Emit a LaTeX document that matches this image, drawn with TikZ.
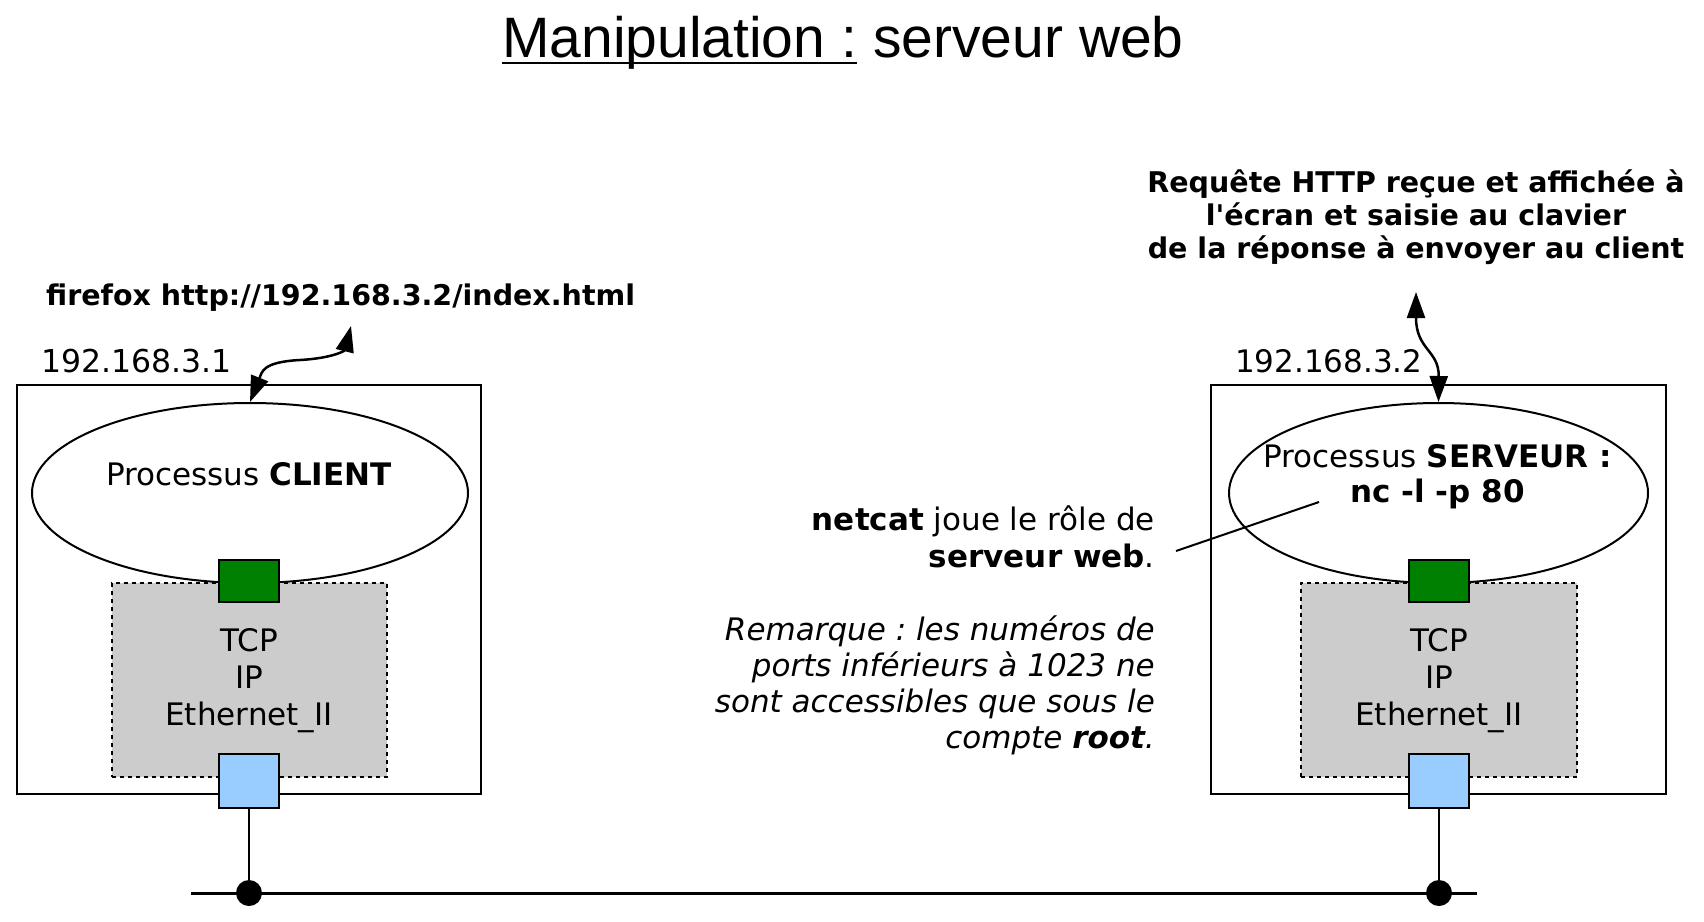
\documentclass[tikz,border=0pt]{standalone}
\usepackage{fontspec}
\setmainfont{DejaVu Sans}
\newfontfamily\titlefont{Liberation Sans}
\font\aposbold="DejaVu Sans/B" at 28.5pt
\usetikzlibrary{shapes.geometric,arrows.meta}
\definecolor{portgreen}{RGB}{0,128,0}
\definecolor{portblue}{RGB}{153,204,255}
\definecolor{stackgray}{RGB}{204,204,204}
\frenchspacing
\begin{document}
\begin{tikzpicture}[x=1pt,y=-1pt,
  host/.style={draw=black, line width=2pt, fill=white, rectangle, minimum width=#1, minimum height=409pt, inner sep=0pt},
  proc/.style={draw=black, line width=2pt, ellipse, minimum width=#1, minimum height=180pt, inner sep=0pt},
  stackbox/.style={draw=black, line width=2pt, dash pattern=on 4pt off 4pt, fill=stackgray, rectangle, minimum width=#1, minimum height=194pt, inner sep=0pt},
  appport/.style={draw=black, line width=2pt, fill=portgreen, rectangle, minimum width=60pt, minimum height=42pt, inner sep=0pt},
  netport/.style={draw=black, line width=2pt, fill=portblue, rectangle, minimum width=60pt, minimum height=54pt, inner sep=0pt},
  busdot/.style={circle, fill=black, minimum size=26pt, inner sep=0pt},
  txt/.style={inner sep=0pt, font=\fontsize{31}{36}\selectfont},
  boldtxt/.style={inner sep=0pt, font=\bfseries\fontsize{28.5}{33}\selectfont},
  dblarrow/.style={{Triangle[length=26pt,width=18pt]}-{Triangle[length=26pt,width=18pt]}, line width=2.5pt},
  wire/.style={line width=2pt}
]
\useasboundingbox (0,0) rectangle (1704,921);

% title
\node[anchor=base west, inner sep=0pt, font=\titlefont\fontsize{57}{68}\selectfont] (ttl1) at (502,57) {Manipulation :};
\node[anchor=base west, inner sep=0pt, font=\titlefont\fontsize{57}{68}\selectfont, xshift=15.8pt] (ttl2) at (ttl1.base east) {serveur web};
\draw[line width=2.5pt] ([yshift=-6pt]ttl1.base west) -- ([yshift=-6pt]ttl1.base east);

% hosts
\node[host=464pt] (hostL) at (249,589.5) {};
\node[host=455pt] (hostR) at (1438.5,589.5) {};

% processes
\node[proc=436pt] (procL) at (250,493) {};
\node[proc=419pt] (procR) at (1438.5,493) {};

% stacks
\node[stackbox=275pt] (stackL) at (249.5,680) {};
\node[stackbox=276pt] (stackR) at (1439,680) {};

% ports
\node[appport] (appL) at (249,581) {};
\node[appport] (appR) at (1439,581) {};
\node[netport] (ethL) at (249,781) {};
\node[netport] (ethR) at (1439,781) {};

% texts in hosts (base anchor = last line)
\node[txt, anchor=base] (clitxt) at (249,485) {Processus \textbf{CLIENT}};
\node[txt, anchor=base, align=center, font=\fontsize{31}{35}\selectfont] (srvtxt) at (1437.5,502) {Processus \textbf{SERVEUR :}\\\textbf{nc -l -p 80}};
\node[txt, anchor=base, align=center, font=\fontsize{31}{37}\selectfont] (layL) at (249,725) {TCP\\IP\\Ethernet\_II};
\node[txt, anchor=base, align=center, font=\fontsize{31}{37}\selectfont] (layR) at (1439,725) {TCP\\IP\\Ethernet\_II};

% addresses
\node[txt, anchor=base west, font=\fontsize{31.5}{36}\selectfont] (ipL) at (41,372) {192.168.3.1};
\node[txt, anchor=base west] (ipR) at (1235,372) {192.168.3.2};

% commands / captions
\node[boldtxt, anchor=base west] (cmd) at (46,305) {firefox http://192.168.3.2/index.html};
\node[boldtxt, anchor=base, align=center] (req) at (1416,258) {Requête HTTP reçue et affichée à\\l{\aposbold'}écran et saisie au clavier\\de la réponse à envoyer au client};

% notes
\node[txt, anchor=base east, align=right, font=\fontsize{31}{37}\selectfont] (note) at (1155,567) {\textbf{netcat} joue le rôle de\\\textbf{serveur web}.};
\node[txt, anchor=base east, align=right, font=\itshape\fontsize{31}{36}\selectfont] (rem) at (1155,748) {Remarque : les numéros de\\ports inférieurs à 1023 ne\\sont accessibles que sous le\\compte \textbf{root}.};

% leader
\coordinate (leadA) at (1176,551);
\coordinate (leadB) at (1319,502);
\draw[wire] (leadA) -- (leadB);

% bus
\coordinate (busL) at (191,893);
\coordinate (busR) at (1477,893);
\draw[line width=3pt] (busL) -- (busR);
\node[busdot] (dotL) at (249,893) {};
\node[busdot] (dotR) at (1439,893) {};
\draw[wire] (ethL.south) -- (dotL.center);
\draw[wire] (ethR.south) -- (dotR.center);

% arrows
\coordinate (cmdtip) at (351,326);
\coordinate (reqtip) at (1416,292);
\draw[dblarrow] (procL.north) .. controls (262,372) and (262,362) .. (300,360) .. controls (335,358) and (345,350) .. (cmdtip);
\draw[dblarrow] (procR.north) .. controls (1439,350) and (1416,350) .. (reqtip);
\end{tikzpicture}
\end{document}
